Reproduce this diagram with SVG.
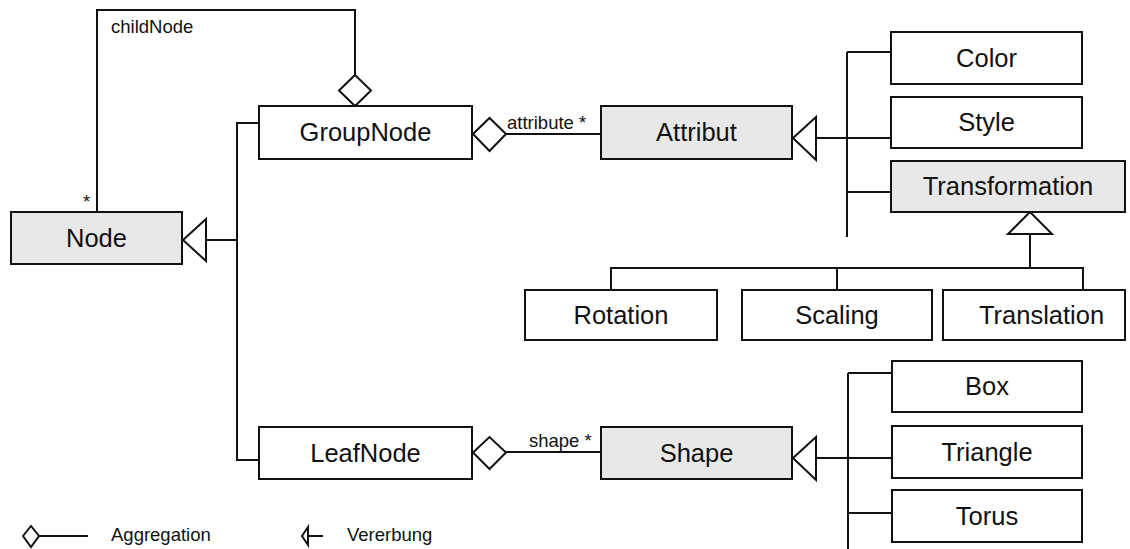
<svg xmlns="http://www.w3.org/2000/svg" width="1130" height="549" viewBox="0 0 1130 549">
<style>
.box{fill:#ffffff;stroke:#111;stroke-width:2}
.abs{fill:#e8e8e8;stroke:#111;stroke-width:2}
.t{font-family:"Liberation Sans",Arial,sans-serif;font-size:25.5px;fill:#111;text-anchor:middle}
.l{font-family:"Liberation Sans",Arial,sans-serif;font-size:18.5px;fill:#111}
.c{fill:none;stroke:#111;stroke-width:2}
.h{fill:#fff;stroke:#111;stroke-width:2}
</style>
<rect width="1130" height="549" fill="#fff"/>
<g id="connectors">
  <polyline class="c" points="97,212 97,10 355,10 355,75"/>
  <polygon class="h" points="355,75 371,90.5 355,106 339,90.5"/>
  <text class="l" x="111" y="33">childNode</text>
  <text class="l" x="83" y="208">*</text>
  <polygon class="h" points="183,240 206,219 206,261"/>
  <polyline class="c" points="206,240 237,240"/>
  <polyline class="c" points="259,123 237,123 237,460 259,460"/>
  <polygon class="h" points="473,134 489.5,118 506,134 489.5,151"/>
  <line class="c" x1="506" y1="134" x2="601" y2="134"/>
  <text class="l" x="507" y="129">attribute *</text>
  <polygon class="h" points="793,138 816,117 816,160"/>
  <line class="c" x1="816" y1="138" x2="891" y2="138"/>
  <line class="c" x1="847" y1="52" x2="847" y2="237"/>
  <line class="c" x1="847" y1="52" x2="891" y2="52"/>
  <line class="c" x1="847" y1="192" x2="891" y2="192"/>
  <polygon class="h" points="1030,212 1052,234 1008,234"/>
  <line class="c" x1="1030" y1="234" x2="1030" y2="268"/>
  <polyline class="c" points="611,290 611,268 1083,268 1083,290"/>
  <line class="c" x1="837" y1="268" x2="837" y2="290"/>
  <polygon class="h" points="473,452.5 489.5,437 506,452.5 489.5,469"/>
  <line class="c" x1="506" y1="452" x2="601" y2="452"/>
  <text class="l" x="529" y="447">shape *</text>
  <polygon class="h" points="793,458 816,437 816,480"/>
  <line class="c" x1="816" y1="458" x2="892" y2="458"/>
  <line class="c" x1="848" y1="373" x2="848" y2="549"/>
  <line class="c" x1="848" y1="373" x2="892" y2="373"/>
  <line class="c" x1="848" y1="513" x2="892" y2="513"/>
</g>
<g id="Node"><rect class="abs" x="11" y="212" width="171" height="52"/><text class="t" x="96.5" y="247">Node</text></g>
<g id="GroupNode"><rect class="box" x="259" y="106" width="213" height="53"/><text class="t" x="365.5" y="141">GroupNode</text></g>
<g id="Attribut"><rect class="abs" x="601" y="106" width="191" height="53"/><text class="t" x="696.5" y="141">Attribut</text></g>
<g id="Color"><rect class="box" x="891" y="32" width="191" height="52"/><text class="t" x="986.5" y="67">Color</text></g>
<g id="Style"><rect class="box" x="891" y="97" width="191" height="51"/><text class="t" x="986.5" y="131">Style</text></g>
<g id="Transformation"><rect class="abs" x="891" y="161" width="234" height="51"/><text class="t" x="1008" y="195">Transformation</text></g>
<g id="Rotation"><rect class="box" x="525" y="290" width="192" height="50"/><text class="t" x="621" y="324">Rotation</text></g>
<g id="Scaling"><rect class="box" x="742" y="290" width="190" height="50"/><text class="t" x="837" y="324">Scaling</text></g>
<g id="Translation"><rect class="box" x="943" y="290" width="182" height="50"/><text class="t" x="1041.5" y="324">Translation</text></g>
<g id="LeafNode"><rect class="box" x="259" y="427" width="213" height="52"/><text class="t" x="365.5" y="462">LeafNode</text></g>
<g id="Shape"><rect class="abs" x="601" y="427" width="191" height="52"/><text class="t" x="696.5" y="462">Shape</text></g>
<g id="Box"><rect class="box" x="892" y="361" width="190" height="51"/><text class="t" x="987" y="395">Box</text></g>
<g id="Triangle"><rect class="box" x="892" y="426" width="190" height="52"/><text class="t" x="987" y="461">Triangle</text></g>
<g id="Torus"><rect class="box" x="892" y="490" width="190" height="52"/><text class="t" x="987" y="525">Torus</text></g>
<g id="legend">
  <polygon class="h" points="23,536 31,526 39,536 31,547"/>
  <line class="c" x1="39" y1="536" x2="88" y2="536"/>
  <text class="l" x="111" y="541">Aggregation</text>
  <polygon class="h" points="302,536 308,527 308,545"/>
  <line class="c" x1="308" y1="536" x2="323" y2="536"/>
  <text class="l" x="347" y="541">Vererbung</text>
</g>
</svg>
